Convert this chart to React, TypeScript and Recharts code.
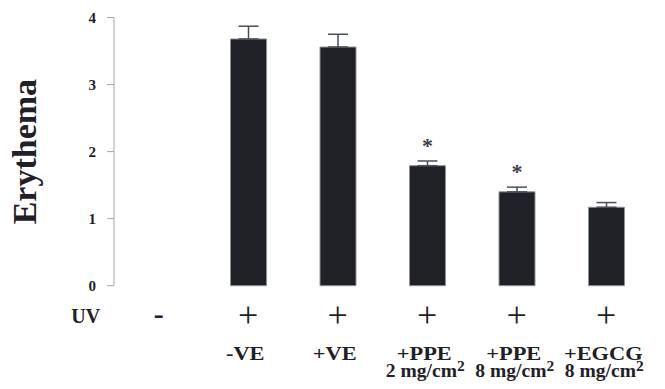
import { BarChart, Bar, XAxis, YAxis, ErrorBar, LabelList } from 'recharts';

const uvRow = ['-', '+', '+', '+', '+', '+'];
const treatments = ['', '-VE', '+VE', '+PPE', '+PPE', '+EGCG'];
const doses = ['', '', '', '2 mg/cm', '8 mg/cm', '8 mg/cm'];
const erythema = [null, 3.68, 3.56, 1.79, 1.4, 1.17];
const sem = [null, 0.19, 0.19, 0.07, 0.07, 0.07];
const marks = ['', '', '', '*', '*', ''];
const yTicks = [0, 1, 2, 3, 4];

const data = uvRow.map((uv, i) => ({
  id: `g${i}`,
  value: erythema[i],
  err: sem[i] == null ? null : [0, sem[i]],
  sig: marks[i],
}));

const FONT = '"Liberation Serif", "Times New Roman", serif';
const INK = '#1f2127';

// the source figure's labels are set wide, so stretch them a little
const Wide = ({ x, y, size, sx, children }: any) => (
  <text
    transform={`translate(${x}, ${y}) scale(${sx}, 1)`}
    textAnchor="middle"
    fontSize={size}
    fontWeight="bold"
  >
    {children}
  </text>
);

const CategoryTick = (props: any) => {
  const { x, y, payload } = props;
  const i = payload.index;
  const plus = uvRow[i] === '+';
  return (
    <g fontFamily={FONT} fill={INK}>
      {i === 0 && (
        <text x={x - 73} y={y + 37.5} textAnchor="middle" fontSize={20} fontWeight="bold">
          UV
        </text>
      )}
      <text
        x={x}
        y={y + (plus ? 41.5 : 38.5)}
        textAnchor="middle"
        fontSize={plus ? 36 : 30}
        fontWeight={plus ? 'normal' : 'bold'}
      >
        {uvRow[i]}
      </text>
      {treatments[i] && (
        <Wide x={x - 3} y={y + 74} size={19} sx={1.18}>
          {treatments[i]}
        </Wide>
      )}
      {doses[i] && (
        <Wide x={x - 2} y={y + 91} size={19} sx={1.03}>
          {doses[i]}
          <tspan fontSize={15} dy={-6}>2</tspan>
        </Wide>
      )}
    </g>
  );
};

const YLabel = (props: any) => {
  const vb = props.viewBox;
  const cx = vb.x + 25;
  const cy = vb.y + vb.height / 2;
  return (
    <text
      x={cx}
      y={cy}
      transform={`rotate(-90, ${cx}, ${cy})`}
      textAnchor="middle"
      dominantBaseline="central"
      fontFamily={FONT}
      fontWeight="bold"
      fontSize={34}
      fill={INK}
    >
      Erythema
    </text>
  );
};

export default function App() {
  return (
    <div style={{ margin: -8, width: 665, height: 389, overflow: 'hidden', background: '#fff' }}>
      <BarChart
        width={665}
        height={389}
        data={data}
        margin={{ top: 17.5, right: 14, left: 0, bottom: 0 }}
        style={{ display: 'block' }}
      >
        <XAxis
          dataKey="id"
          axisLine={false}
          tickLine={false}
          tickSize={0}
          tickMargin={0}
          height={103.3}
          interval={0}
          tick={<CategoryTick />}
        />
        <YAxis
          width={114}
          domain={[0, 4]}
          ticks={yTicks}
          interval={0}
          stroke="#a2a7ae"
          tickSize={7}
          tickMargin={11}
          tick={{ fill: INK, fontSize: 15, fontWeight: 'bold', fontFamily: FONT }}
          label={<YLabel />}
        />
        <Bar dataKey="value" barSize={36} fill={INK} stroke="#8c929a" strokeWidth={1} isAnimationActive={false}>
          <ErrorBar dataKey="err" width={10} stroke="#4a4f57" strokeWidth={1.5} direction="y" />
          <LabelList
            dataKey="sig"
            position="top"
            offset={13}
            fill="#3a4049"
            fontSize={22}
            fontWeight="bold"
            fontFamily={FONT}
          />
        </Bar>
      </BarChart>
    </div>
  );
}
